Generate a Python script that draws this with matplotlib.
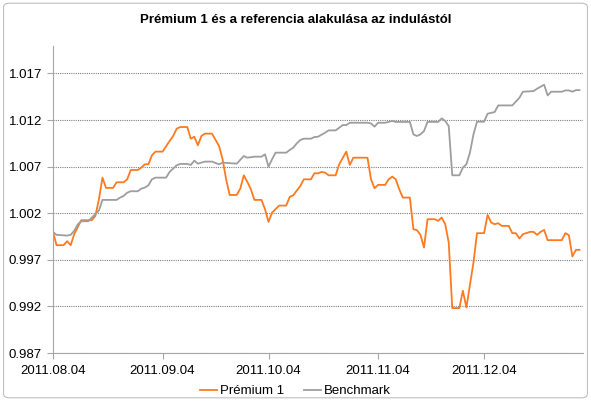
import pandas as pd
import matplotlib
matplotlib.use("Agg")
import matplotlib.pyplot as plt
import matplotlib.dates as mdates
from matplotlib.patches import FancyBboxPatch

plt.rcParams["font.family"] = ["Liberation Sans", "DejaVu Sans"]

# ---- adatok (napok az indulástól: 2011.08.04) ----
START = "2011-08-04"

premium_days = [0, 1, 3, 4, 5, 6, 8, 11, 12, 13, 14, 15, 17, 18, 20, 21, 22, 24, 25, 26,
                27, 28, 29, 31, 33, 34, 35, 36, 38, 39, 40, 41, 42, 43, 45, 47, 48, 49, 50, 52,
                53, 54, 55, 56, 57, 59, 60, 61, 62, 64, 66, 67, 68, 70, 71, 73, 74, 75, 76, 77,
                78, 80, 81, 83, 84, 85, 89, 90, 91, 92, 94, 95, 96, 97, 98, 99, 101, 102, 103, 104,
                105, 106, 108, 109, 110, 111, 112, 113, 115, 116, 117, 118, 119, 120, 122, 123, 124, 125, 126, 127,
                129, 130, 131, 132, 133, 135, 136, 137, 138, 139, 140, 144, 145, 146, 147, 148, 149]
premium = [1.00000, 0.99857, 0.99857, 0.99900, 0.99857, 0.99975, 1.00125, 1.00125, 1.00172, 1.00350,
           1.00582, 1.00472, 1.00472, 1.00532, 1.00532, 1.00564, 1.00664, 1.00664, 1.00690, 1.00725,
           1.00725, 1.00821, 1.00861, 1.00861, 1.00975, 1.01029, 1.01107, 1.01125, 1.01125, 1.01000,
           1.01021, 1.00929, 1.01029, 1.01054, 1.01054, 1.00921, 1.00779, 1.00564, 1.00396, 1.00396,
           1.00464, 1.00607, 1.00536, 1.00457, 1.00343, 1.00343, 1.00243, 1.00107, 1.00207, 1.00282,
           1.00282, 1.00375, 1.00393, 1.00493, 1.00564, 1.00564, 1.00629, 1.00629, 1.00643, 1.00636,
           1.00607, 1.00607, 1.00725, 1.00861, 1.00718, 1.00796, 1.00796, 1.00564, 1.00468, 1.00504,
           1.00504, 1.00564, 1.00593, 1.00564, 1.00457, 1.00368, 1.00368, 1.00029, 1.00018, 0.99968,
           0.99832, 1.00136, 1.00136, 1.00118, 1.00154, 1.00082, 0.99886, 0.99182, 0.99182, 0.99368,
           0.99189, 0.99430, 0.99671, 0.99986, 0.99986, 1.00182, 1.00100, 1.00082, 1.00093, 1.00064,
           1.00064, 0.99986, 0.99986, 0.99929, 0.99975, 1.00000, 1.00000, 0.99968, 1.00000, 1.00021,
           0.99911, 0.99911, 0.99986, 0.99964, 0.99736, 0.99807, 0.99807]

bench_days = [0, 1, 4, 5, 6, 7, 8, 10, 11, 12, 13, 14, 18, 19, 20, 21, 22, 24, 25, 26,
              27, 28, 29, 32, 33, 35, 36, 38, 39, 40, 41, 43, 45, 47, 48, 52, 54, 55, 57, 59,
              60, 61, 62, 63, 66, 67, 68, 69, 70, 71, 73, 74, 75, 77, 78, 80, 82, 83, 84, 89,
              90, 91, 92, 94, 96, 97, 101, 102, 103, 104, 105, 106, 109, 110, 111, 112, 113, 115, 116, 117,
              118, 119, 120, 122, 123, 125, 126, 130, 132, 133, 136, 137, 139, 140, 141, 144, 145, 146, 147, 148,
              149]
benchmark = [1.00000, 0.99968, 0.99960, 0.99968, 1.00011, 1.00080, 1.00114, 1.00114, 1.00154, 1.00190,
             1.00230, 1.00343, 1.00343, 1.00368, 1.00386, 1.00420, 1.00436, 1.00436, 1.00464, 1.00475,
             1.00500, 1.00564, 1.00582, 1.00582, 1.00643, 1.00714, 1.00729, 1.00729, 1.00718, 1.00764,
             1.00732, 1.00754, 1.00754, 1.00725, 1.00743, 1.00732, 1.00814, 1.00796, 1.00807, 1.00807,
             1.00832, 1.00700, 1.00779, 1.00850, 1.00850, 1.00879, 1.00904, 1.00950, 1.00986, 1.01000,
             1.01000, 1.01018, 1.01021, 1.01064, 1.01089, 1.01089, 1.01146, 1.01146, 1.01171, 1.01171,
             1.01164, 1.01129, 1.01171, 1.01171, 1.01190, 1.01180, 1.01180, 1.01046, 1.01029, 1.01046,
             1.01082, 1.01180, 1.01180, 1.01218, 1.01190, 1.01136, 1.00607, 1.00607, 1.00689, 1.00725,
             1.00850, 1.01046, 1.01182, 1.01182, 1.01268, 1.01286, 1.01357, 1.01357, 1.01439, 1.01504,
             1.01511, 1.01536, 1.01579, 1.01464, 1.01504, 1.01504, 1.01518, 1.01518, 1.01504, 1.01521,
             1.01521]

tick_dates = ["2011-08-04", "2011-09-04", "2011-10-04", "2011-11-04", "2011-12-04"]
y_ticks = [0.987, 0.992, 0.997, 1.002, 1.007, 1.012, 1.017]

start = pd.Timestamp(START)
premium_x = start + pd.to_timedelta(premium_days, unit="D")
bench_x = start + pd.to_timedelta(bench_days, unit="D")

ORANGE = "#FF7A1E"
GRAY = "#9E9E9E"

fig = plt.figure(figsize=(5.91, 4.01), dpi=100)
# keret
fig.patches.append(FancyBboxPatch((0.006, 0.008), 0.988, 0.984,
                                  boxstyle="round,pad=0,rounding_size=0.01",
                                  transform=fig.transFigure, facecolor="none",
                                  edgecolor="#BFBFBF", linewidth=0.8, zorder=-1))

ax = fig.add_axes([53 / 591, 1 - 353 / 401, 530 / 591, (353 - 45.5) / 401])
ax.set_facecolor("none")

ax.plot(premium_x, premium, color=ORANGE, lw=1.3, label="Prémium 1")
ax.plot(bench_x, benchmark, color=GRAY, lw=1.3, label="Benchmark")

ax.set_ylim(0.987, 1.020)
ax.set_xlim(start, start + pd.Timedelta(days=150))
ax.set_yticks(y_ticks)
ax.set_yticklabels([f"{v:.3f}" for v in y_ticks])
ax.set_xticks(pd.to_datetime(tick_dates))
ax.xaxis.set_major_formatter(mdates.DateFormatter("%Y.%m.%d"))

ax.yaxis.grid(True, color="#7F7F7F", linestyle=(0, (1, 1)), linewidth=0.8)
ax.set_axisbelow(True)

for s in ["top", "right"]:
    ax.spines[s].set_visible(False)
for s in ["left", "bottom"]:
    ax.spines[s].set_color("#A6A6A6")
    ax.spines[s].set_linewidth(0.8)
ax.tick_params(axis="both", colors="#A6A6A6", length=4, width=0.8, labelsize=9.5,
               labelcolor="black")
ax.tick_params(axis="y", pad=4)
ax.tick_params(axis="x", pad=5)

fig.text(0.5, 1 - 20 / 401, "Prémium 1 és a referencia alakulása az indulástól",
         ha="center", va="center", fontsize=9.5, fontweight="bold")

fig.legend(loc="center", bbox_to_anchor=(0.5, 1 - 391 / 401), ncol=2, frameon=False,
           fontsize=9.5, handlelength=1.3, handletextpad=0.2, columnspacing=1.5)

fig.savefig("out.png", dpi=100)
